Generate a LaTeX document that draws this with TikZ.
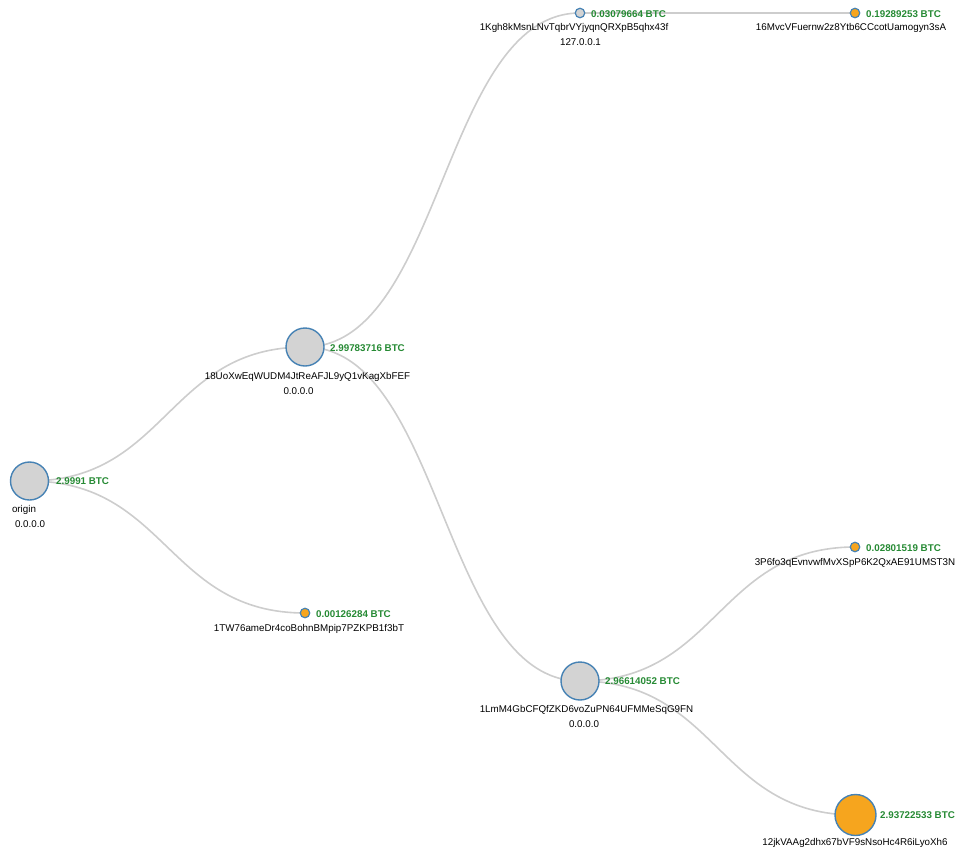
\documentclass[tikz,border=0pt]{standalone}
\usepackage{fontspec}
\setmainfont{Liberation Sans}
\usetikzlibrary{calc,backgrounds}
\usepackage{xcolor}
\definecolor{rim}{RGB}{70,130,180}
\definecolor{gris}{RGB}{211,211,211}
\definecolor{naranja}{RGB}{246,165,30}
\definecolor{verde}{RGB}{38,138,52}
\definecolor{enlace}{RGB}{205,205,205}
\tikzset{
  grande/.style={circle,draw=rim,line width=1.4pt,fill=gris,minimum size=38pt,inner sep=0pt},
  chico/.style={circle,draw=rim,line width=1.2pt,fill=naranja,minimum size=9.5pt,inner sep=0pt},
  btc/.style={anchor=west,text=verde,font=\fontsize{9.8}{11}\selectfont\bfseries,inner sep=0pt},
  dir/.style={font=\fontsize{9.8}{11}\selectfont,inner sep=0pt},
  enl/.style={draw=enlace,line width=1.6pt}
}
\newcommand{\diag}[2]{%
  \draw[enl] let \p1=(#1.center), \p2=(#2.center) in
    (\p1) .. controls ({(\x1+\x2)/2},\y1) and ({(\x1+\x2)/2},\y2) .. (\p2);}

\begin{document}
\begin{tikzpicture}[x=1pt,y=-1pt]
\useasboundingbox (0,0) rectangle (957,851);
% Nodos
\node[grande] (origen) at (29.5,481) {};
\node[grande] (n18Uo) at (305,347) {};
\node[chico,fill=gris] (n1Kgh) at (580,13) {};
\node[chico] (n16Mv) at (855,13) {};
\node[chico] (n1TW7) at (305,613) {};
\node[grande] (n1LmM) at (580,681) {};
\node[chico] (n3P6f) at (855,547) {};
\node[grande,fill=naranja,minimum size=41pt] (n12jk) at (855.5,815) {};
% Enlaces
\begin{pgfonlayer}{background}
\diag{origen}{n18Uo}
\diag{origen}{n1TW7}
\diag{n18Uo}{n1Kgh}
\diag{n18Uo}{n1LmM}
\diag{n1Kgh}{n16Mv}
\diag{n1LmM}{n3P6f}
\diag{n1LmM}{n12jk}
\end{pgfonlayer}
% Montos
\node[btc] at (56,481) {2.9991 BTC};
\node[btc] at (330,348) {2.99783716 BTC};
\node[btc] at (591,14) {0.03079664 BTC};
\node[btc] at (866,14) {0.19289253 BTC};
\node[btc] at (316,614) {0.00126284 BTC};
\node[btc] at (605,681) {2.96614052 BTC};
\node[btc] at (866,548) {0.02801519 BTC};
\node[btc] at (880,815) {2.93722533 BTC};
% Direcciones
\node[dir] at (24,510) {origin};
\node[dir] at (30,524) {0.0.0.0};
\node[dir] at (307.5,377) {18UoXwEqWUDM4JtReAFJL9yQ1vKagXbFEF};
\node[dir] at (298.5,391) {0.0.0.0};
\node[dir] at (574,28) {1Kgh8kMsnLNvTqbrVYjyqnQRXpB5qhx43f};
\node[dir] at (580.5,42) {127.0.0.1};
\node[dir] at (851,28) {16MvcVFuernw2z8Ytb6CCcotUamogyn3sA};
\node[dir] at (309,629) {1TW76ameDr4coBohnBMpip7PZKPB1f3bT};
\node[dir] at (586.5,710) {1LmM4GbCFQfZKD6voZuPN64UFMMeSqG9FN};
\node[dir] at (584,724) {0.0.0.0};
\node[dir] at (855,563) {3P6fo3qEvnvwfMvXSpP6K2QxAE91UMST3N};
\node[dir] at (855,843) {12jkVAAg2dhx67bVF9sNsoHc4R6iLyoXh6};
\end{tikzpicture}
\end{document}
